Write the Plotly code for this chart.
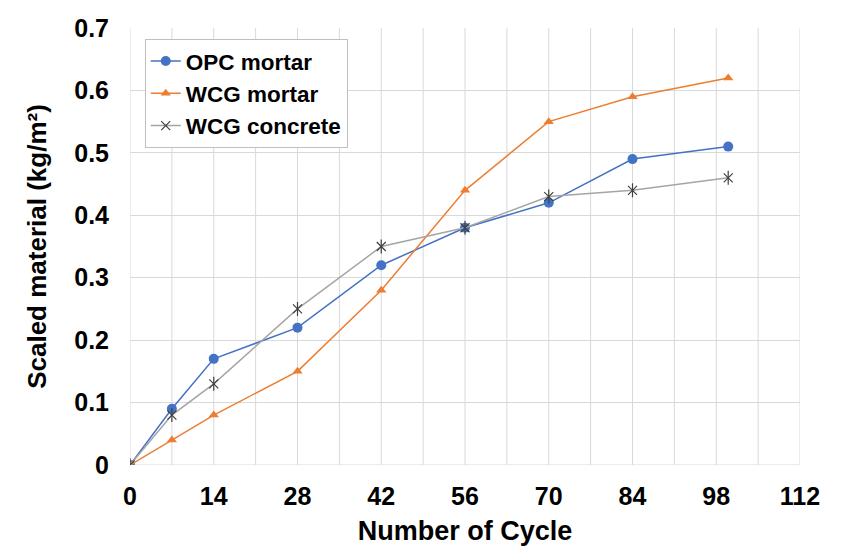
import plotly.graph_objects as go

cycles = [0, 7, 14, 28, 42, 56, 70, 84, 100]
opc_mortar = [0, 0.09, 0.17, 0.22, 0.32, 0.38, 0.42, 0.49, 0.51]
wcg_mortar = [0, 0.04, 0.08, 0.15, 0.28, 0.44, 0.55, 0.59, 0.62]
wcg_concrete = [0, 0.08, 0.13, 0.25, 0.35, 0.38, 0.43, 0.44, 0.46]
x_ticks = [0, 14, 28, 42, 56, 70, 84, 98, 112]
y_ticks = [0, 0.1, 0.2, 0.3, 0.4, 0.5, 0.6, 0.7]
y_tick_text = ["0", "0.1", "0.2", "0.3", "0.4", "0.5", "0.6", "0.7"]

FONT = "Liberation Sans, Arial, sans-serif"

fig = go.Figure()
fig.add_trace(go.Scatter(x=cycles, y=opc_mortar, name="<b>OPC mortar</b>", mode="lines+markers",
                         line=dict(color="#4472C4", width=1.5),
                         marker=dict(symbol="circle", size=10, color="#4472C4")))
fig.add_trace(go.Scatter(x=cycles, y=wcg_mortar, name="<b>WCG mortar</b>", mode="lines+markers",
                         line=dict(color="#ED7D31", width=1.5),
                         marker=dict(symbol="triangle-up", size=9, color="#ED7D31")))
fig.add_trace(go.Scatter(x=cycles, y=wcg_concrete, name="<b>WCG concrete</b>", mode="lines+markers",
                         line=dict(color="#A5A5A5", width=1.5),
                         marker=dict(symbol="x-thin-open", size=9, color="#404040",
                                     line=dict(color="#404040", width=1.2))))
fig.add_trace(go.Scatter(x=cycles, y=wcg_concrete, showlegend=False, mode="markers",
                         hoverinfo="skip",
                         marker=dict(symbol="line-ns-open", size=10, color="#404040",
                                     line=dict(color="#404040", width=1.2))))

fig.update_layout(
    width=853, height=559,
    margin=dict(l=130, r=53, t=28, b=94),
    paper_bgcolor="white", plot_bgcolor="white",
    font=dict(family=FONT, color="black"),
    showlegend=True,
    legend=dict(x=0.022, y=0.975, xanchor="left", yanchor="top",
                bgcolor="white", bordercolor="#BFBFBF", borderwidth=1,
                font=dict(family=FONT, size=22.5, color="black"),
                tracegroupgap=2, itemwidth=30),
    xaxis=dict(range=[0, 112], tickvals=x_ticks, ticktext=["<b>%d</b>" % t for t in x_ticks],
               showgrid=False, zeroline=False, showline=False,
               tickfont=dict(family=FONT, size=25, color="black"),
               ticklabelstandoff=14, ticks="",
               title=dict(text="<b>Number of Cycle</b>", font=dict(family=FONT, size=27, color="black"),
                          standoff=12)),
    yaxis=dict(range=[0, 0.7], tickvals=y_ticks, ticktext=["<b>%s</b>" % t for t in y_tick_text],
               showgrid=True, gridcolor="#D9D9D9", gridwidth=1,
               zeroline=False, showline=False, ticks="",
               tickfont=dict(family=FONT, size=25, color="black"),
               ticklabelstandoff=20,
               title=dict(text="<b>Scaled material (kg/m²)</b>", font=dict(family=FONT, size=26, color="black"),
                          standoff=20)),
)

# vertical gridlines every 7 cycles
for gx in range(0, 113, 7):
    fig.add_shape(type="line", xref="x", yref="y", x0=gx, x1=gx, y0=0, y1=0.7,
                  line=dict(color="#D9D9D9", width=1), layer="below")
# x-axis baseline
fig.add_shape(type="line", xref="x", yref="y", x0=0, x1=112, y0=0, y1=0,
              line=dict(color="#D9D9D9", width=1), layer="below")

fig.write_html("out.html")
